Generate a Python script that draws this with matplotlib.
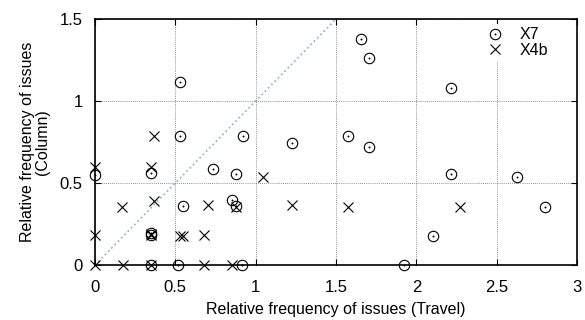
import matplotlib
matplotlib.use('Agg')
import matplotlib.pyplot as plt
from matplotlib.legend_handler import HandlerTuple

plt.rcParams['font.family'] = ['Liberation Sans', 'DejaVu Sans']

# X7 points (circles with a dot)
x7_x = [1.654, 1.703, 2.214, 1.228, 1.577, 1.703, 2.214, 2.627, 2.803, 2.102, 1.923,
        0.527, 0.527, 0.919, 0.736, 0.875, 0.549, 0.850, 0.875, 0.917,
        0.0, 0.346, 0.346, 0.346, 0.346, 0.518]
x7_y = [1.376, 1.260, 1.079, 0.742, 0.787, 0.721, 0.555, 0.538, 0.356, 0.177, 0.0,
        1.116, 0.785, 0.785, 0.585, 0.555, 0.360, 0.396, 0.360, 0.0,
        0.549, 0.559, 0.193, 0.183, 0.0, 0.0]

# X4b points (crosses)
x4b_x = [0.0, 0.0, 0.0, 0.176, 0.170, 0.367, 0.346, 0.346, 0.346, 0.346,
         0.529, 0.545, 1.047, 0.701, 0.877, 0.680, 0.680, 0.850,
         0.369, 1.228, 1.577, 2.272]
x4b_y = [0.6, 0.183, 0.0, 0.0, 0.356, 0.392, 0.6, 0.19, 0.18, 0.0,
         0.177, 0.177, 0.538, 0.366, 0.356, 0.183, 0.0, 0.0,
         0.785, 0.366, 0.356, 0.352]

x_ticks = [0, 0.5, 1, 1.5, 2, 2.5, 3]
x_labels = ['0', '0.5', '1', '1.5', '2', '2.5', '3']
y_ticks = [0, 0.5, 1, 1.5]
y_labels = ['0', '0.5', '1', '1.5']

fig = plt.figure(figsize=(5.85, 3.2), dpi=100)
ax = fig.add_axes([0.1624, 0.1719, 0.8239, 0.7687])

# y = x reference line
ax.plot([0, 1.5], [0, 1.5], color='#6cb8e8', linestyle=(0, (1, 1.8)), linewidth=1.2, zorder=1)

circ, = ax.plot(x7_x, x7_y, linestyle='none', marker='o', markersize=7.5,
                markerfacecolor='none', markeredgecolor='black', markeredgewidth=0.8,
                clip_on=False, zorder=3)
dot, = ax.plot(x7_x, x7_y, linestyle='none', marker='o', markersize=1.0,
               markerfacecolor='black', markeredgecolor='black', markeredgewidth=0.3,
               clip_on=False, zorder=3)
cross, = ax.plot(x4b_x, x4b_y, linestyle='none', marker='x', markersize=7,
                 markeredgecolor='black', markeredgewidth=0.8, clip_on=False, zorder=3)

ax.set_xlim(0, 3)
ax.set_ylim(0, 1.5)
ax.set_xticks(x_ticks)
ax.set_xticklabels(x_labels)
ax.set_yticks(y_ticks)
ax.set_yticklabels(y_labels)
ax.tick_params(direction='in', length=4, width=0.8, labelsize=12, top=True, right=True)
ax.tick_params(axis='x', pad=11)
ax.tick_params(axis='y', pad=9)
ax.grid(True, color='#707070', linestyle=(0, (1, 1.5)), linewidth=0.6)
for s in ax.spines.values():
    s.set_linewidth(1.2)

ax.set_xlabel('Relative frequency of issues (Travel)', fontsize=11.5, labelpad=5)
ax.set_ylabel('Relative frequency of issues\n(Column)', fontsize=11.5, labelpad=7,
              linespacing=1.0)

leg = ax.legend([(circ, dot), cross], ['X7', 'X4b'],
                handler_map={tuple: HandlerTuple(ndivide=1, pad=0)},
                loc='upper right', bbox_to_anchor=(0.946, 0.98),
                frameon=True, edgecolor='none', facecolor='white',
                framealpha=1, fontsize=11.5, handlelength=1.0, handletextpad=1.0,
                labelspacing=0.05, borderpad=0.2, borderaxespad=0)
leg.get_frame().set_linewidth(0)

fig.savefig('out.png', dpi=100)
